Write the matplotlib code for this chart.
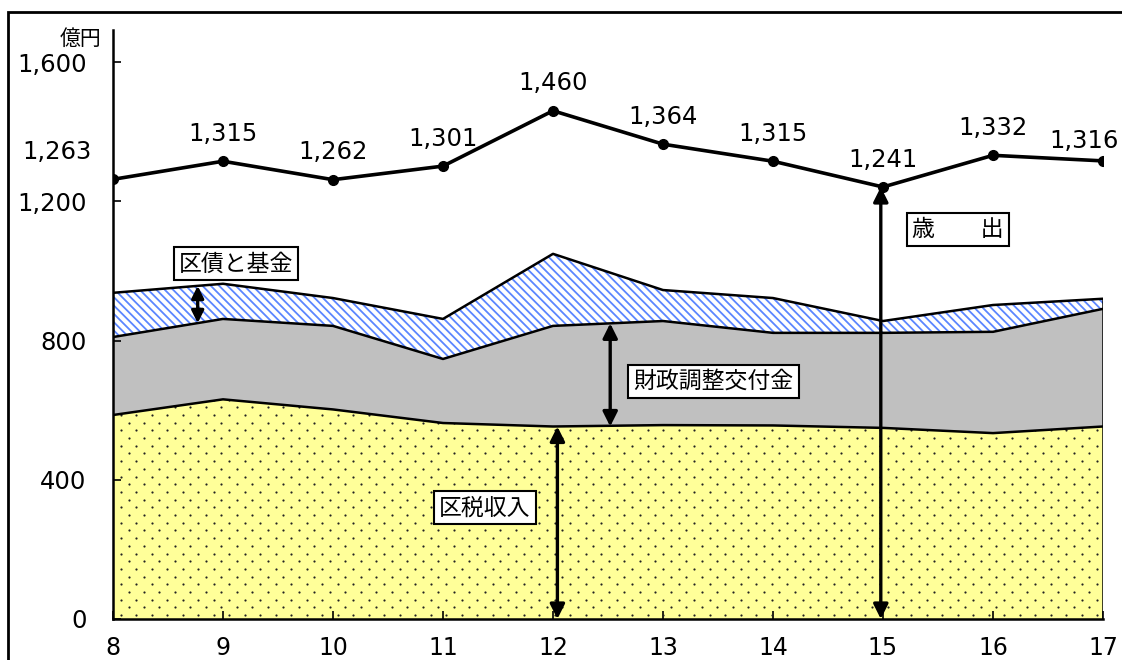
import matplotlib
matplotlib.use("Agg")
import matplotlib.pyplot as plt
from matplotlib.patches import Rectangle
import numpy as np

plt.rcParams['font.family'] = ['DejaVu Sans', 'Noto Sans CJK JP']
plt.rcParams['hatch.linewidth'] = 1.3

# 年度 (平成)
years = [8, 9, 10, 11, 12, 13, 14, 15, 16, 17]
# 歳出 (億円)
spending = [1263, 1315, 1262, 1301, 1460, 1364, 1315, 1241, 1332, 1316]
# 歳入の内訳 (億円)
tax = [586, 631, 602, 563, 553, 557, 556, 549, 534, 553]
grant = [224, 231, 240, 184, 289, 299, 266, 273, 291, 338]
bonds = [127, 101, 80, 115, 207, 89, 100, 34, 77, 29]

x = np.array(years)
top_tax = np.array(tax)
top_grant = top_tax + np.array(grant)
top_bonds = top_grant + np.array(bonds)

fig = plt.figure(figsize=(11.22, 6.6), dpi=100)
ax = fig.add_axes([113 / 1122, 41 / 660, 990 / 1122, 589 / 660])
ax.set_xlim(8, 17)
ax.set_ylim(0, 1692)

# stacked areas
yellow = ax.fill_between(x, 0, top_tax, facecolor='#ffff99', edgecolor='none', zorder=1)
ax.fill_between(x, top_tax, top_grant, facecolor='#c0c0c0', edgecolor='none', zorder=1)
ax.fill_between(x, top_grant, top_bonds, facecolor='white', edgecolor='#5b86ff',
                hatch='\\\\\\\\', linewidth=0, zorder=1)

# dot texture on the tax area
dx = 15.5 / 110
dy = 7.7 * 1692 / 589
gx, gy = [], []
for i, yy in enumerate(np.arange(dy / 2, 700, dy)):
    off = dx / 2 if i % 2 else 0
    for xx in np.arange(8 + dx / 2 + off, 17, dx):
        gx.append(xx)
        gy.append(yy)
dots = ax.scatter(gx, gy, s=2.5, color='#222222', linewidths=0, zorder=2)
dots.set_clip_path(yellow.get_paths()[0], ax.transData)

for top in (top_tax, top_grant, top_bonds):
    ax.plot(x, top, color='black', lw=1.8, zorder=3)
ax.plot([17, 17], [0, top_bonds[-1]], color='black', lw=1.8, zorder=3)

# 歳出 line
ax.plot(x, spending, color='black', lw=2.6, marker='o', markersize=7, zorder=5)
for i, (xx, v) in enumerate(zip(years, spending)):
    dxp, dyp = 0, 11
    if i == 0:
        dxp = -40
    elif i == len(years) - 1:
        dxp = -14
        dyp = 6
    ax.annotate(f'{v:,}', (xx, v), xytext=(dxp, dyp), textcoords='offset points',
                ha='center', va='bottom', fontsize=17.5)

# arrows
arrow_kw = dict(arrowstyle='<|-|>', color='black', lw=2.4, mutation_scale=22,
                shrinkA=0, shrinkB=0)
ax.annotate('', xy=(8.77, top_grant[0] + 0.77 * (top_grant[1] - top_grant[0])),
            xytext=(8.77, top_bonds[0] + 0.77 * (top_bonds[1] - top_bonds[0])),
            arrowprops=dict(arrow_kw, mutation_scale=18), zorder=6)
ax.annotate('', xy=(12.52, top_tax[4]), xytext=(12.52, top_grant[4] + 0.52 * (top_grant[5] - top_grant[4])),
            arrowprops=arrow_kw, zorder=6)
ax.annotate('', xy=(12.04, 0), xytext=(12.04, top_tax[4]), arrowprops=arrow_kw, zorder=6)
ax.annotate('', xy=(14.98, 0), xytext=(14.98, spending[7]), arrowprops=arrow_kw, zorder=6)

box = dict(boxstyle='square,pad=0.22', facecolor='white', edgecolor='black', lw=1.5)
ax.text(9.12, 1020, '区債と基金', ha='center', va='center', fontsize=16.5, bbox=box, zorder=7)
ax.text(13.46, 683, '財政調整交付金', ha='center', va='center', fontsize=16.5, bbox=box, zorder=7)
ax.text(11.38, 319, '区税収入', ha='center', va='center', fontsize=16.5, bbox=box, zorder=7)
ax.text(15.68, 1119, '歳\u3000\u3000出', ha='center', va='center', fontsize=16.5, bbox=box, zorder=7)

# axes styling
for side in ('top', 'right'):
    ax.spines[side].set_visible(False)
for side in ('left', 'bottom'):
    ax.spines[side].set_linewidth(1.8)
ax.set_yticks([0, 400, 800, 1200, 1600])
ax.set_yticklabels(['0', '400', '800', '1,200', '1,600'])
ax.set_xticks(years)
ax.tick_params(direction='in', length=6, width=1.2, labelsize=17.5)
ax.tick_params(axis='y', pad=19)
ax.tick_params(axis='x', labelsize=17, pad=12)
ax.text(-0.033, 0.985, '億円', transform=ax.transAxes, ha='center', va='center', fontsize=15)

# outer frame
fig.patches.append(Rectangle((8 / 1122, -0.1), 1.2, 0.1 + 648 / 660, transform=fig.transFigure,
                             fill=False, edgecolor='black', lw=2, zorder=0))

fig.savefig('out.png', dpi=100)
